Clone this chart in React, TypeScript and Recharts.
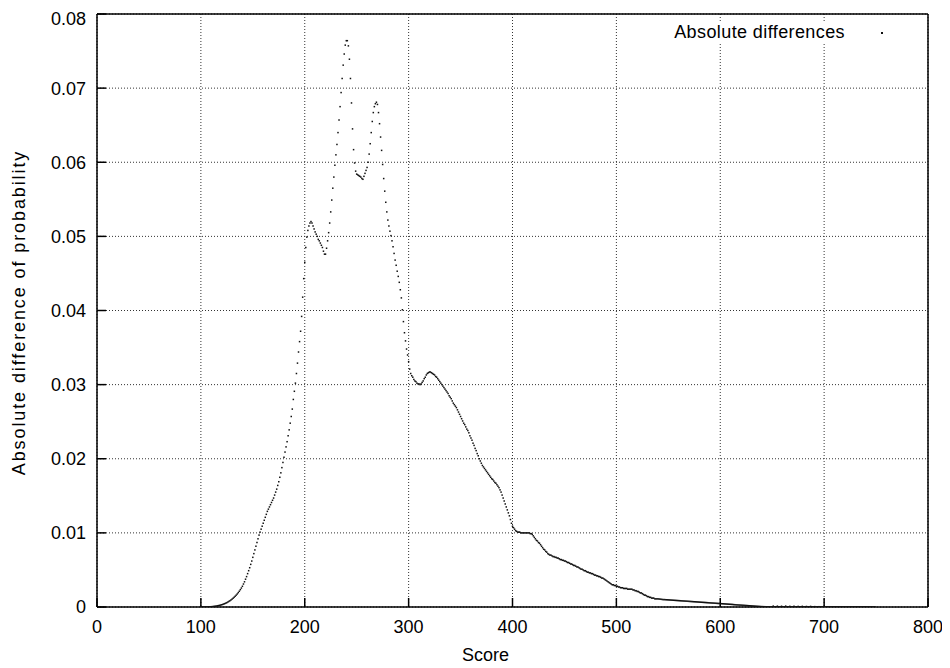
import { ScatterChart, Scatter, XAxis, YAxis, CartesianGrid, Legend } from 'recharts';

const FONT = '"Liberation Sans", Arial, Helvetica, sans-serif';

const firstScore = 100;

// absolute difference of probability, in units of 1e-4, one value per score from 100 up
const diffs: number[] = [
  0, 0, 0, 0, 0, 0.1, 0.1, 0.2, 0.2, 0.3,
  0.4, 0.5, 0.7, 0.9, 1.1, 1.3, 1.6, 1.9, 2.2, 2.6,
  3, 3.5, 4, 4.6, 5.2, 5.9, 6.7, 7.6, 8.5, 9.5,
  10.6, 11.8, 13.1, 14.5, 16, 17.6, 19.4, 21.3, 23.4, 25.6,
  28, 31, 34, 37.5, 41, 45, 49, 53, 57.5, 62,
  67, 72, 77, 82, 87, 92, 97, 101, 105, 109,
  113, 117, 121, 125, 129, 132, 135, 138, 141, 144,
  147, 151, 155, 159, 164, 169, 175, 181, 188, 195,
  202, 209, 216, 223, 231, 239, 248, 257, 267, 280,
  291, 302, 315, 329, 344, 358, 372, 392, 418, 443,
  465, 485, 499, 508, 514, 518, 520, 518, 514, 510,
  506, 503, 500, 496, 494, 491, 488, 485, 480, 476,
  476, 484, 494, 505, 518, 533, 549, 565, 580, 596,
  610, 624, 640, 657, 675, 694, 713, 731, 746, 758,
  764, 764, 757, 739, 713, 680, 645, 617, 599, 588,
  584, 583, 582, 581, 580, 578, 577, 581, 585, 589,
  593, 600, 611, 625, 640, 655, 667, 675, 679, 681,
  678, 667, 652, 634, 616, 597, 578, 561, 546, 533,
  522, 514, 507, 501, 494, 486, 477, 468, 461, 453,
  446, 438, 428, 417, 401, 385, 370, 359, 348, 340,
  331, 321, 315, 312, 310, 307, 305, 304, 302, 301,
  301, 300, 301, 303, 305, 308, 310, 313, 315, 316,
  317, 317, 316, 315, 314, 313, 311, 310, 308, 306,
  304, 302, 300, 298, 296, 294, 292, 290, 288, 285,
  283, 281, 278, 275, 273, 271, 269, 266, 263, 260,
  257, 254, 251, 248, 246, 243, 240, 238, 235, 231,
  228, 225, 221, 218, 214, 211, 207, 204, 200, 197,
  194, 191, 189, 187, 185, 183, 181, 179, 177, 175,
  173, 172, 170, 168, 167, 165, 163, 161, 158, 155,
  151, 147, 143, 139, 135, 131, 127, 123, 118, 113,
  109, 107, 105, 103, 102, 101, 101, 101, 100, 100,
  100, 100, 100, 100, 100, 100, 100, 99, 99, 98,
  96, 94, 92, 90, 89, 87, 86, 84, 82, 80,
  78, 77, 75, 74, 72, 71, 70, 70, 69, 68,
  68, 67, 67, 66, 66, 65, 64, 64, 63, 63,
  62, 62, 61, 60, 60, 59, 58, 58, 57, 56,
  56, 55, 54, 54, 53, 52, 51, 51, 50, 49,
  49, 48, 47, 47, 46, 46, 45, 45, 44, 43,
  43, 42, 42, 41, 41, 40, 39, 39, 38, 37,
  36, 35, 34, 33, 32, 31, 30, 30, 29, 29,
  28, 28, 27, 27, 26, 26, 26, 25, 25, 25,
  25, 24, 24, 24, 24, 24, 23, 23, 22, 22,
  21, 21, 20, 19, 19, 18, 17, 16, 16, 15,
  14, 14, 13, 13, 12, 12, 12, 11, 11, 11,
  11, 10.8, 10.6, 10.4, 10.2, 10, 10, 9.9, 9.8, 9.7,
  9.6, 9.5, 9.4, 9.3, 9.2, 9.1, 9, 8.9, 8.8, 8.7,
  8.6, 8.5, 8.4, 8.3, 8.2, 8.1, 8, 7.9, 7.8, 7.7,
  7.6, 7.5, 7.4, 7.3, 7.2, 7.1, 7, 6.9, 6.8, 6.7,
  6.6, 6.5, 6.4, 6.3, 6.2, 6.1, 6, 5.9, 5.8, 5.7,
  5.6, 5.5, 5.4, 5.3, 5.2, 5.1, 5, 4.9, 4.8, 4.7,
  4.6, 4.5, 4.4, 4.3, 4.2, 4.1, 4, 3.9, 3.8, 3.7,
  3.6, 3.5, 3.4, 3.2, 3.1, 3, 2.9, 2.8, 2.7, 2.6,
  2.5, 2.4, 2.3, 2.2, 2.1, 2, 1.9, 1.8, 1.7, 1.6,
  1.5, 1.4, 1.3, 1.2, 1.1, 1, 0.9, 0.8, 0.7, 0.6,
  0.5, 0.5, 0.4, 0.4, 0.3, 0.3, 0.3, 0.2, 0.2, 0.2,
  0.2, 1.2, 0.2, 0.1, 0.2, 1.1, 0.1, 0.2, 0.1, 1.0,
  0.2, 0.1, 0.1, 1.2, 0.1, 0.2, 0.1, 0.9, 0.1, 0.1,
  0.2, 1.0, 0.1, 0.1, 0.1, 0.8, 0.1, 0.2, 0.1, 0.9,
  0.1, 0.1, 0.1, 0.7, 0.1, 0.1, 0.1, 0.8, 0.1, 0.1,
  0.1, 0.5, 0.1, 0.1, 0.1, 0.4, 0.1, 0.1, 0.1, 0.3,
  0.1, 0.1, 0.1, 0.2, 0.1, 0.1, 0.1, 0.1, 0.2, 0.1,
  0.1, 0.1, 0.1, 0.1, 0.1, 0.1, 0.1, 0.1, 0.1, 0.1,
  0.1, 0.1, 0.1, 0.1, 0.1, 0.1, 0.1, 0.05, 0.05, 0.05,
  0.05, 0.05, 0.05, 0.05, 0.05, 0.05, 0.05, 0.05, 0.05, 0.05,
  0.05, 0.05, 0.05, 0.05, 0.05, 0, 0, 0, 0, 0,
];

const xTicks = [0, 100, 200, 300, 400, 500, 600, 700, 800];
const yTicks = [0, 0.01, 0.02, 0.03, 0.04, 0.05, 0.06, 0.07, 0.08];

const seriesName = 'Absolute differences';
const xTitle = 'Score';
const yTitle = 'Absolute difference of probability';

const rows = diffs.map((d, i) => ({ score: firstScore + i, diff: d / 10000 }));

const Dot = (props: any) => {
  const { cx, cy } = props;
  if (cx == null || cy == null) return null;
  return <rect x={cx - 0.75} y={cy - 0.75} width={1.5} height={1.5} fill="#111" />;
};

const renderKey = () => (
  <div style={{ position: 'relative', width: 264, height: 19, background: '#fff', fontFamily: FONT, fontSize: 18, lineHeight: '19px', color: '#000' }}>
    <span style={{ position: 'absolute', right: 79, top: 0, whiteSpace: 'nowrap', letterSpacing: 0.4 }}>{seriesName}</span>
    <span style={{ position: 'absolute', left: 221, top: 9, width: 1.5, height: 1.5, background: '#111' }} />
  </div>
);

const axisStroke = { stroke: '#000', strokeWidth: 1.5 };
const tickFont = { fontSize: 18, fill: '#000', fontFamily: FONT };

export default function App() {
  return (
    <ScatterChart
      width={942}
      height={660}
      margin={{ top: 5, right: 21, bottom: 21, left: 0 }}
      style={{ fontFamily: FONT, background: '#fff' }}
    >
      <CartesianGrid xAxisId="x" yAxisId="y" stroke="#333" strokeDasharray="1 2" />
      <XAxis
        xAxisId="x"
        type="number"
        dataKey="score"
        domain={[0, 800]}
        ticks={xTicks}
        height={40}
        tickSize={-9}
        tickMargin={22}
        tick={tickFont}
        axisLine={axisStroke}
        tickLine={axisStroke}
        allowDataOverflow
        label={({ viewBox }: any) => (
          <text x={viewBox.x + viewBox.width / 2 - 27} y={viewBox.y + 54} textAnchor="middle" fontSize={18} fontFamily={FONT} fill="#000">
            {xTitle}
          </text>
        )}
      />
      <XAxis
        xAxisId="top"
        orientation="top"
        type="number"
        domain={[0, 800]}
        ticks={xTicks}
        height={1}
        tickSize={-9}
        tick={false}
        axisLine={axisStroke}
        tickLine={axisStroke}
        allowDataOverflow
      />
      <YAxis
        yAxisId="y"
        type="number"
        dataKey="diff"
        domain={[0, 0.08]}
        ticks={yTicks}
        width={89}
        tickSize={-9}
        tickMargin={20}
        tick={tickFont}
        tickFormatter={(v: number) => String(v)}
        axisLine={axisStroke}
        tickLine={axisStroke}
        allowDataOverflow
        label={({ viewBox }: any) => (
          <text
            x={11}
            y={viewBox.y + viewBox.height / 2 + 2}
            transform={`rotate(-90 11 ${viewBox.y + viewBox.height / 2 + 2})`}
            textAnchor="middle"
            dominantBaseline="central"
            fontSize={18}
            fontFamily={FONT}
            letterSpacing={1.9}
            fill="#000"
          >
            {yTitle}
          </text>
        )}
      />
      <YAxis
        yAxisId="right"
        orientation="right"
        type="number"
        domain={[0, 0.08]}
        ticks={yTicks}
        width={1}
        tickSize={-9}
        tick={false}
        axisLine={axisStroke}
        tickLine={axisStroke}
        allowDataOverflow
      />
      <Legend
        layout="horizontal"
        verticalAlign="middle"
        align="center"
        content={renderKey}
        wrapperStyle={{ left: 652, top: 15, width: 264, height: 19, right: 'auto', bottom: 'auto' }}
      />
      <Scatter
        name={seriesName}
        data={rows}
        xAxisId="x"
        yAxisId="y"
        shape={Dot}
        isAnimationActive={false}
      />
    </ScatterChart>
  );
}
